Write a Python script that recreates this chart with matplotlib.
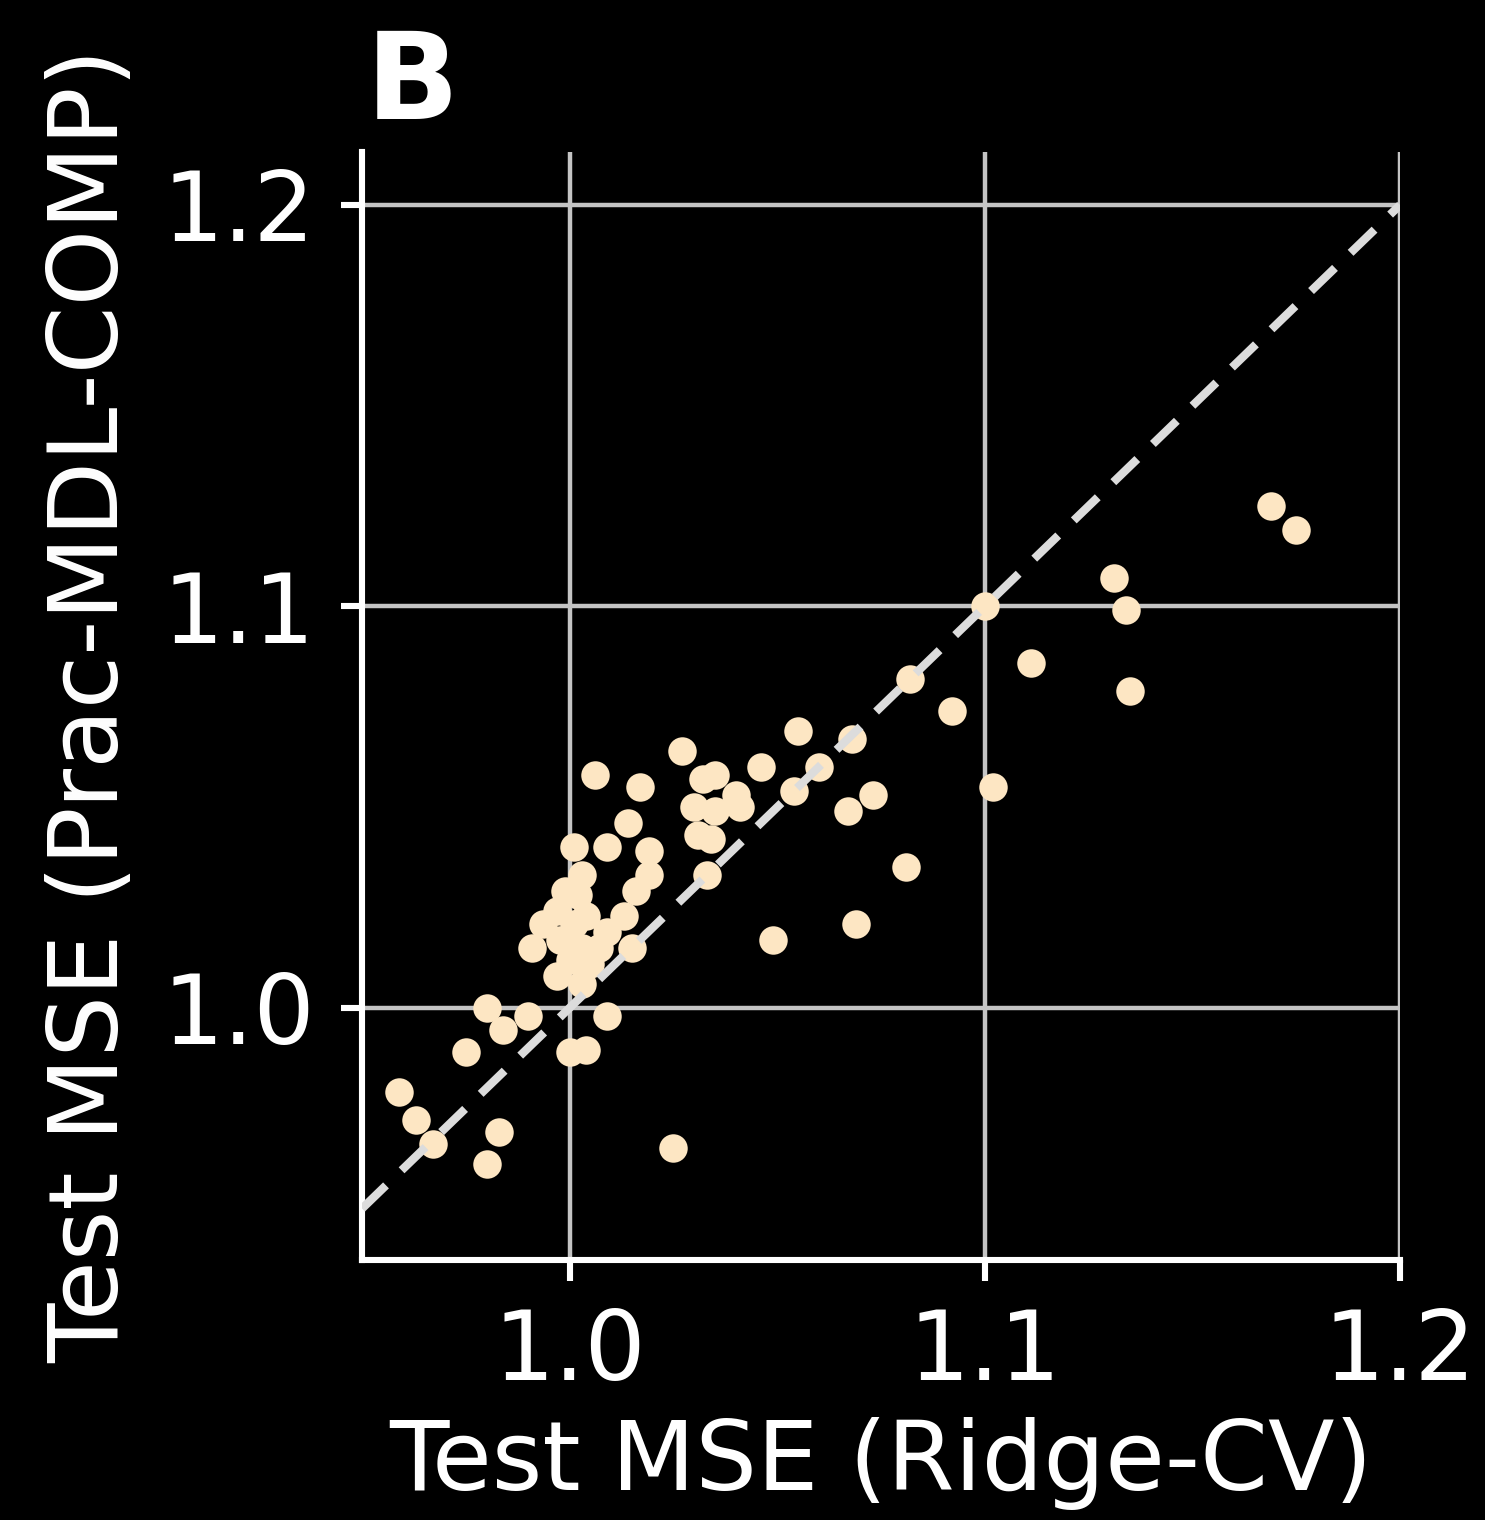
import matplotlib
matplotlib.use("Agg")
import matplotlib.pyplot as plt

# Test MSE per dataset: Ridge-CV (x) vs Prac-MDL-COMP (y)
ridge_cv = [
    1.169, 1.175, 1.131, 1.134, 1.100, 1.135, 1.111, 1.082, 1.092, 1.055,
    1.068, 1.060, 1.102, 1.054, 1.073, 1.067, 1.081, 1.069, 1.049, 1.046,
    1.027, 1.006, 1.017,
    1.032, 1.035, 1.040, 1.030, 1.035, 1.041, 1.031, 1.034, 1.033,
    1.014, 1.001, 1.009, 1.019, 1.019, 1.016, 1.003, 1.002, 0.9935, 0.997,
    1.004, 1.013, 1.009, 0.991, 1.003, 1.007, 1.015, 0.997, 1.003, 1.000,
    1.005, 0.9976, 1.001, 0.999,
    0.980, 0.990, 0.984, 1.009, 0.975, 1.000, 1.004, 0.959, 0.963, 0.967,
    0.980, 0.983, 1.025,
]
prac_mdl_comp = [
    1.125, 1.119, 1.107, 1.099, 1.100, 1.079, 1.086, 1.082, 1.074, 1.069,
    1.067, 1.060, 1.055, 1.054, 1.053, 1.049, 1.035, 1.021, 1.017, 1.060,
    1.064, 1.058, 1.055,
    1.057, 1.058, 1.053, 1.050, 1.049, 1.050, 1.043, 1.042, 1.033,
    1.046, 1.040, 1.040, 1.039, 1.033, 1.029, 1.033, 1.028, 1.021, 1.024,
    1.023, 1.023, 1.019, 1.015, 1.015, 1.015, 1.015, 1.008, 1.006, 1.012,
    1.011, 1.017, 1.021, 1.029,
    1.000, 0.998, 0.9945, 0.998, 0.989, 0.989, 0.9895, 0.979, 0.972, 0.966,
    0.961, 0.969, 0.965,
]
ticks = [1.0, 1.1, 1.2]
tick_labels = ["1.0", "1.1", "1.2"]
identity = [0.95, 1.2]

plt.rcParams["font.family"] = ["DejaVu Sans"]

fig = plt.figure(figsize=(14.85, 15.2), dpi=100, facecolor="black")
ax = fig.add_axes([0.2438, 0.1711, 0.6990, 0.7289], facecolor="black")

ax.scatter(ridge_cv, prac_mdl_comp, s=420, color="#fde6c3",
           linewidths=0, zorder=3)
ax.plot(identity, identity, color="#dcdcdc", lw=6.0, dashes=(4, 2.6),
        zorder=4, solid_capstyle="butt", dash_capstyle="butt")

ax.set_xlim(0.95, 1.2)
ax.set_ylim(0.9372, 1.2132)
ax.set_xticks(ticks)
ax.set_xticklabels(tick_labels)
ax.set_yticks(ticks)
ax.set_yticklabels(tick_labels)

ax.grid(True, color="#c4c4c4", lw=3.2, zorder=0)
ax.set_axisbelow(True)
for side in ("top", "right"):
    ax.spines[side].set_visible(False)
for side in ("left", "bottom"):
    ax.spines[side].set_color("white")
    ax.spines[side].set_linewidth(4.4)

ax.tick_params(colors="white", labelcolor="white", labelsize=69,
               length=15, width=4.4, pad=19)

ax.set_xlabel("Test MSE (Ridge-CV)", color="white", fontsize=70, labelpad=12)
ax.set_ylabel("Test MSE (Prac-MDL-COMP)", color="white", fontsize=70,
              labelpad=17)

fig.text(0.2465, 0.9215, "B", color="white", fontsize=88, fontweight="bold",
         ha="left", va="baseline")

fig.savefig("out.png", dpi=100, facecolor="black")
